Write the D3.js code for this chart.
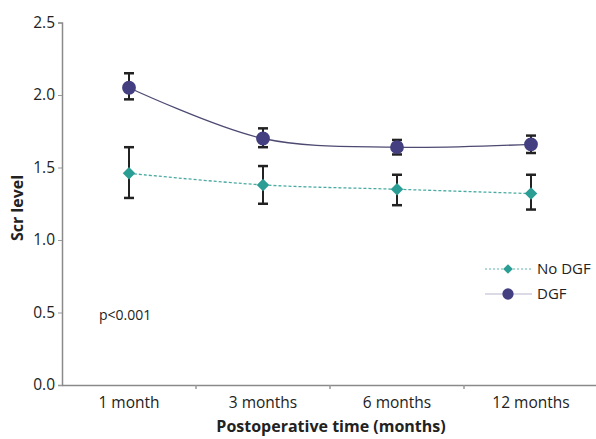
<!DOCTYPE html>
<html>
<head>
	<meta charset="utf-8">
	<title>Scr level</title>
	<script src="https://d3js.org/d3.v7.min.js"></script>
	<style>
		html, body { margin: 0; background: #fff; }
		text { font-family: "Open Sans", "Noto Sans", sans-serif; fill: #222; }
	</style>
</head>
<body>
	<svg id="svg"></svg>
	<script>
		const categories = ["1 month", "3 months", "6 months", "12 months"];
		const yTicks = [0, 0.5, 1.0, 1.5, 2.0, 2.5];

		const dgfMean = [2.05, 1.70, 1.64, 1.66];
		const dgfLow = [1.97, 1.64, 1.59, 1.60];
		const dgfHigh = [2.15, 1.77, 1.69, 1.72];

		const noDgfMean = [1.46, 1.38, 1.35, 1.32];
		const noDgfLow = [1.29, 1.25, 1.24, 1.21];
		const noDgfHigh = [1.64, 1.51, 1.45, 1.45];

		const width = 596, height = 439;
		const margins = { top: 22, left: 62, right: 0, bottom: 54 };

		const svg = d3.select("#svg")
		.attr("width", width)
		.attr("height", height);

		const x = d3.scaleBand()
		.domain(categories)
		.range([margins.left, 598]);

		const y = d3.scaleLinear()
		.domain([0, 2.5])
		.range([385, 22.5]);

		const xc = d => x(d) + x.bandwidth() / 2;

		// y axis
		const yAxis = svg.append("g")
		.attr("transform", `translate(${margins.left},0)`)
		.call(d3.axisLeft(y).tickValues(yTicks).tickFormat(d3.format(".1f")).tickSize(4).tickPadding(3));
		yAxis.select(".domain").attr("stroke", "#8a8a8a").attr("stroke-width", 1.5);
		yAxis.selectAll(".tick line").attr("stroke", "#999");
		yAxis.selectAll(".tick text").attr("font-size", 15.5).attr("fill", "#222");

		// x axis
		const xAxis = svg.append("g")
		.attr("transform", `translate(0,385)`)
		.call(d3.axisBottom(x).tickSize(0).tickPadding(12));
		xAxis.select(".domain").attr("stroke", "#8a8a8a").attr("stroke-width", 1.5);
		xAxis.selectAll(".tick text").attr("font-size", 15.5).attr("fill", "#222");
		xAxis.selectAll(".sep")
		.data(categories.slice(1))
		.enter()
		.append("line")
		.attr("x1", d => x(d))
		.attr("x2", d => x(d))
		.attr("y1", 0)
		.attr("y2", 4)
		.attr("stroke", "#999")
		.attr("stroke-width", 1.5);

		// titles
		svg.append("text")
		.attr("x", 331)
		.attr("y", 432)
		.attr("text-anchor", "middle")
		.attr("font-size", 16)
		.attr("font-weight", "bold")
		.text("Postoperative time (months)");

		svg.append("text")
		.attr("transform", "translate(23,208) rotate(-90)")
		.attr("text-anchor", "middle")
		.attr("font-size", 16)
		.attr("font-weight", "bold")
		.text("Scr level");

		svg.append("text")
		.attr("x", 99)
		.attr("y", 320)
		.attr("font-size", 14)
		.text("p<0.001");

		const curve = d3.line().curve(d3.curveCatmullRom);

		function drawSeries(mean, low, high, color, lineColor, lineWidth, dash, shape) {
			const g = svg.append("g");
			g.append("path")
			.attr("fill", "none")
			.attr("stroke", lineColor)
			.attr("stroke-width", lineWidth)
			.attr("stroke-dasharray", dash)
			.attr("d", curve(categories.map((c, i) => [xc(c), y(mean[i])])));

			const eb = g.selectAll(".eb")
			.data(categories)
			.enter()
			.append("g");
			eb.append("line")
			.attr("x1", d => xc(d)).attr("x2", d => xc(d))
			.attr("y1", (d, i) => y(low[i])).attr("y2", (d, i) => y(high[i]))
			.attr("stroke", "#222").attr("stroke-width", 2);
			[low, high].forEach(arr => {
				eb.append("line")
				.attr("x1", d => xc(d) - 5).attr("x2", d => xc(d) + 5)
				.attr("y1", (d, i) => y(arr[i])).attr("y2", (d, i) => y(arr[i]))
				.attr("stroke", "#222").attr("stroke-width", 2.5);
			});

			g.selectAll(".pt")
			.data(categories)
			.enter()
			.append("path")
			.attr("transform", (d, i) => `translate(${xc(d)},${y(mean[i])})`)
			.attr("d", d3.symbol().type(shape).size(shape === d3.symbolCircle ? 150 : 100))
			.attr("fill", color);
		}

		drawSeries(noDgfMean, noDgfLow, noDgfHigh, "#2a9e94", "#4aaaa2", 1.3, "3,2", d3.symbolDiamond2);
		drawSeries(dgfMean, dgfLow, dgfHigh, "#433f80", "#4d4a72", 1.3, null, d3.symbolCircle);

		// legend
		const legend = [
			{ name: "No DGF", color: "#2a9e94", line: "#5fb8b0", dash: "2,2", shape: d3.symbolDiamond2, size: 60 },
			{ name: "DGF", color: "#433f80", line: "#b8b6cc", dash: null, shape: d3.symbolCircle, size: 100 }
		];
		const lg = svg.selectAll(".legend")
		.data(legend)
		.enter()
		.append("g")
		.attr("transform", (d, i) => `translate(485,${269 + i * 25})`);
		lg.append("line")
		.attr("x1", 0).attr("x2", 47)
		.attr("stroke", d => d.line)
		.attr("stroke-width", 1.2)
		.attr("stroke-dasharray", d => d.dash);
		lg.append("path")
		.attr("transform", "translate(23,0)")
		.attr("d", d => d3.symbol().type(d.shape).size(d.size)())
		.attr("fill", d => d.color);
		lg.append("text")
		.attr("x", 52)
		.attr("y", 5)
		.attr("font-size", 15)
		.text(d => d.name);
	</script>
</body>
</html>
